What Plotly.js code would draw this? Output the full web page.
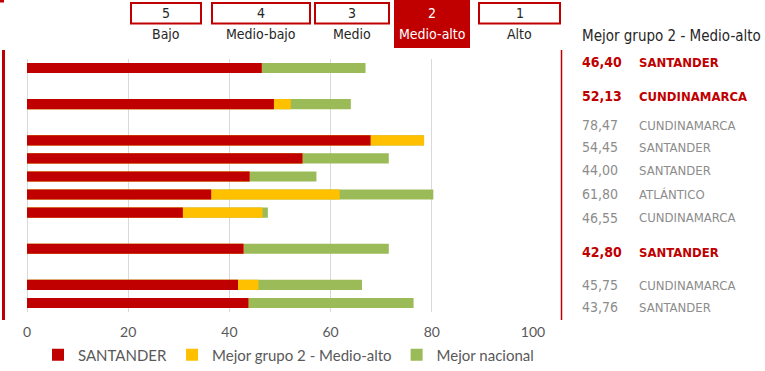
<!DOCTYPE html>
<html>
<head>
<meta charset="utf-8">
<script src="https://cdn.plot.ly/plotly-3.0.1.min.js"></script>
<style>html,body{margin:0;padding:0;background:#fff;}#chart{width:765px;height:371px;}</style>
</head>
<body>
<div id="chart"></div>
<script>
// ---- data ----
var rows = ['r1','r2','r3','r4','r5','r6','r7','r8','r9','r10'];
var slots = ['r1','g1','r2','g2','r3','r4','r5','r6','r7','g3','r8','g4','r9','r10'];
var santander = [46.40, 48.8, 67.9, 54.45, 44.00, 36.4, 30.8, 42.80, 41.7, 43.76];
var mejorGrupo = [46.40, 52.13, 78.47, 54.45, 44.00, 61.80, 46.55, 42.80, 45.75, 43.76];
var mejorNacional = [66.9, 64.0, 78.47, 71.5, 57.2, 80.3, 47.6, 71.5, 66.2, 76.4];
var grupoDepto = ['SANTANDER','CUNDINAMARCA','CUNDINAMARCA','SANTANDER','SANTANDER','ATLÁNTICO','CUNDINAMARCA','SANTANDER','CUNDINAMARCA','SANTANDER'];
var destacado = [true, true, false, false, false, false, false, true, false, false];
var niveles = ['5','4','3','2','1'];
var nivelNombres = ['Bajo','Medio-bajo','Medio','Medio-alto','Alto'];
var nivelActivo = '2';
var xTicks = [0, 20, 40, 60, 80, 100];

// ---- layout helpers (pixel -> paper) ----
var L = 27, R = 533, T = 59, B = 312;
function px(x){ return (x - L) / (R - L); }
function py(y){ return (B - y) / (B - T); }

var RED = '#C00000', YEL = '#FFC000', GRN = '#9BBB59';
var narrow = '"Liberation Sans Narrow", "Arial Narrow", "DejaVu Sans Condensed", sans-serif';
var calib = 'Lato, "Open Sans", sans-serif';

var barW = 0.56;
var traces = [
  {type:'bar', orientation:'h', name:'Mejor nacional', y:rows, x:mejorNacional, width:barW, marker:{color:GRN}, hoverinfo:'x'},
  {type:'bar', orientation:'h', name:'Mejor grupo 2 - Medio-alto', y:rows, x:mejorGrupo, width:barW, marker:{color:YEL}, hoverinfo:'x'},
  {type:'bar', orientation:'h', name:'SANTANDER', y:rows, x:santander, width:barW, marker:{color:RED}, hoverinfo:'x'}
];

var shapes = [];
var annotations = [];

// left and right vertical rules, top-left mark
shapes.push({type:'line', xref:'paper', yref:'paper', x0:px(3.5), x1:px(3.5), y0:py(50), y1:py(320), line:{color:RED, width:3}});
shapes.push({type:'line', xref:'paper', yref:'paper', x0:px(561.5), x1:px(561.5), y0:py(50), y1:py(320), line:{color:RED, width:1.5}});
shapes.push({type:'rect', xref:'paper', yref:'paper', x0:px(0), x1:px(4), y0:py(0), y1:py(2.5), line:{width:0}, fillcolor:RED});

// header boxes
var boxX = [[130,202],[211,311],[314,390],[394,470],[478,561]];
niveles.forEach(function(n, i){
  var b = boxX[i];
  var cx = (b[0] + b[1]) / 2;
  var active = (n === nivelActivo);
  if (active) {
    shapes.push({type:'rect', xref:'paper', yref:'paper', x0:px(b[0]), x1:px(b[1]), y0:py(0), y1:py(48), line:{width:0}, fillcolor:RED});
  } else {
    shapes.push({type:'rect', xref:'paper', yref:'paper', x0:px(b[0]+1), x1:px(b[1]-1), y0:py(3), y1:py(23.5), line:{color:RED, width:2}, fillcolor:'rgba(0,0,0,0)'});
  }
  annotations.push({xref:'paper', yref:'paper', x:px(cx), y:py(13), text:n, showarrow:false, xanchor:'center', yanchor:'middle',
    font:{family:narrow, size:14, color: active ? '#FFFFFF' : '#262626'}});
  annotations.push({xref:'paper', yref:'paper', x:px(cx), y:py(34), text:nivelNombres[i], showarrow:false, xanchor:'center', yanchor:'middle',
    font:{family:narrow, size:14, color: active ? '#FFFFFF' : '#262626'}});
});

// right side panel
annotations.push({xref:'paper', yref:'paper', x:px(580), y:py(36), text:'Mejor grupo 2 - Medio-alto', showarrow:false, xanchor:'left', yanchor:'middle',
  font:{family:narrow, size:15, color:'#262626'}});
var labelY = [62, 96, 125, 147, 170, 194, 218, 252, 285, 307];
mejorGrupo.forEach(function(v, i){
  var col = destacado[i] ? RED : '#8C8C8C';
  var txt = v.toFixed(2).replace('.', ',');
  var b1 = destacado[i] ? '<b>' : '', b2 = destacado[i] ? '</b>' : '';
  annotations.push({xref:'paper', yref:'paper', x:px(580), y:py(labelY[i]), text:b1 + txt + b2, showarrow:false, xanchor:'left', yanchor:'middle',
    font:{family:narrow, size:14, color:col}});
  annotations.push({xref:'paper', yref:'paper', x:px(637), y:py(labelY[i]), text:b1 + grupoDepto[i] + b2, showarrow:false, xanchor:'left', yanchor:'middle',
    font:{family:narrow, size:13, color:col}});
});

var layout = {
  width:765, height:371,
  margin:{l:L, r:765-R, t:T, b:371-B, pad:0, autoexpand:false},
  paper_bgcolor:'#fff', plot_bgcolor:'#fff',
  barmode:'overlay',
  showlegend:true,
  legend:{orientation:'h', x:px(38), xanchor:'left', y:py(355), yanchor:'middle', traceorder:'reversed',
    font:{family:calib, size:15, color:'#595959'}, itemwidth:30},
  xaxis:{range:[0,100], tickvals:xTicks, ticktext:xTicks.map(String), showgrid:true, gridcolor:'#D9D9D9', gridwidth:1,
    zeroline:true, zerolinecolor:'#D9D9D9', zerolinewidth:1, showline:false, ticks:'outside', ticklen:7, tickcolor:'rgba(0,0,0,0)',
    tickfont:{family:calib, size:14, color:'#595959'}, fixedrange:true},
  yaxis:{type:'category', categoryorder:'array', categoryarray:slots, range:[slots.length-0.5, -0.5],
    showticklabels:false, showgrid:false, zeroline:false, ticks:'', fixedrange:true},
  shapes:shapes,
  annotations:annotations
};

Plotly.newPlot('chart', traces, layout, {displayModeBar:false, staticPlot:true});
</script>
</body>
</html>
